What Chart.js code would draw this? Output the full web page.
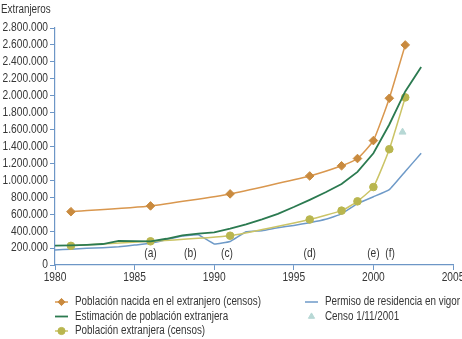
<!DOCTYPE html>
<html>
<head>
<meta charset="utf-8">
<script src="https://cdn.jsdelivr.net/npm/chart.js@4.4.1/dist/chart.umd.min.js"></script>
<style>
html,body{margin:0;padding:0;background:#fff;overflow:hidden;}
#wrap{position:relative;width:462px;height:339px;}
</style>
</head>
<body>
<div id="wrap"><canvas id="c"></canvas></div>
<script>
// ---- data ----
const censusYears = [1981, 1986, 1991, 1996, 1998, 1999, 2000, 2001, 2002];
const bornAbroad = [630000, 698000, 840000, 1052000, 1172000, 1258000, 1470000, 1970000, 2600000];
const foreignCensus = [226000, 280000, 346000, 538000, 642000, 752000, 921000, 1368000, 1980000];
const annualYears = [1980,1981,1982,1983,1984,1985,1986,1987,1988,1989,1990,1991,1992,1993,1994,1995,1996,1997,1998,1999,2000,2001,2002,2003];
const estimate = [228000,232000,238000,248000,285000,282000,280000,310000,350000,370000,385000,430000,480000,540000,605000,685000,770000,860000,957000,1100000,1320000,1660000,2050000,2340000];
const permits = [177000,187000,197000,205000,215000,235000,256000,300000,342000,357000,249000,278000,392000,405000,440000,468000,500000,540000,604000,725000,806000,890000,1105000,1320000];
const census2001Year = [2001.83];
const census2001Value = [1570000];
const noteLabels = ['(a)','(b)','(c)','(d)','(e)','(f)'];
const noteYears = [1986, 1988.5, 1990.8, 1996, 2000, 2001.05];
const xTicks = [1980, 1985, 1990, 1995, 2000, 2005];
const yMax = 2800000, yStep = 200000;

const FONT = '"Liberation Sans", Arial, sans-serif';
const FSIZE = 12.3;
const SX = 0.83;     // horizontal condensing of numbers
const SX_TXT = 0.80; // horizontal condensing of words
const TXT = '#363636';
const AXIS = '#6d96c6';
const C_ORANGE_L = '#d9974e', C_ORANGE_P = '#c98a3e';
const C_GREEN = '#2b7a50';
const C_YEL_L = '#cbc466', C_YEL_P = '#b9b64f';
const C_BLUE = '#6e9ac8';
const C_TRI = '#b7d8d5';

const zip = (xs, ys) => xs.map((x, i) => ({x, y: ys[i]}));
const fmt = v => String(Math.round(v)).replace(/\B(?=(\d{3})+(?!\d))/g, '.');

function drawText(ctx, text, x, y, align, sx) {
  ctx.save();
  ctx.font = FSIZE + 'px ' + FONT;
  ctx.fillStyle = TXT;
  ctx.textBaseline = 'middle';
  ctx.textAlign = align || 'left';
  ctx.translate(x, y);
  ctx.scale(sx || SX, 1);
  ctx.fillText(text, 0, 0);
  ctx.restore();
}

const datasets = [
  {label:'Población nacida en el extranjero (censos)', data: zip(censusYears, bornAbroad),
   borderColor:C_ORANGE_L, backgroundColor:C_ORANGE_P, pointBackgroundColor:C_ORANGE_P, pointBorderColor:C_ORANGE_P,
   pointStyle:'rectRot', pointRadius:4.3, borderWidth:1.5, pointBorderWidth:1, tension:0.15},
  {label:'Estimación de población extranjera', data: zip(annualYears, estimate),
   borderColor:C_GREEN, backgroundColor:C_GREEN, pointRadius:0, borderWidth:1.8, tension:0},
  {label:'Población extranjera (censos)', data: zip(censusYears, foreignCensus),
   borderColor:C_YEL_L, backgroundColor:C_YEL_P, pointBackgroundColor:C_YEL_P, pointBorderColor:C_YEL_P,
   pointStyle:'circle', pointRadius:3.8, borderWidth:1.5, pointBorderWidth:1, tension:0.15},
  {label:'Permiso de residencia en vigor', data: zip(annualYears, permits),
   borderColor:C_BLUE, backgroundColor:C_BLUE, pointRadius:0, borderWidth:1.5, tension:0.1},
  {label:'Censo 1/11/2001', data: zip(census2001Year, census2001Value), showLine:false,
   borderColor:C_TRI, backgroundColor:C_TRI, pointBackgroundColor:C_TRI, pointBorderColor:C_TRI,
   pointStyle:'triangle', pointRadius:4, pointBorderWidth:1}
];

const legendLayout = [
  {ds:0, x:55, y:302}, {ds:1, x:55, y:316.5}, {ds:2, x:55, y:331},
  {ds:3, x:305, y:302}, {ds:4, x:305, y:316.5}
];

const extras = {
  id:'extras',
  afterDraw(chart){
    const ctx = chart.ctx;
    const xs = chart.scales.x, ys = chart.scales.y;
    // title
    drawText(ctx, 'Extranjeros', 1, 10, 'left', SX_TXT);
    // y tick labels
    ys.ticks.forEach(t => drawText(ctx, fmt(t.value), xs.left - 7, ys.getPixelForValue(t.value), 'right'));
    // x tick labels
    xs.ticks.forEach(t => drawText(ctx, String(t.value), xs.getPixelForValue(t.value), ys.bottom + 12.5, 'center'));
    // notes
    noteLabels.forEach((t, i) => drawText(ctx, t, xs.getPixelForValue(noteYears[i]), ys.bottom - 11, 'center'));
    // legend
    legendLayout.forEach(item => {
      const d = chart.data.datasets[item.ds];
      const x = item.x, y = item.y;
      ctx.save();
      if (d.showLine !== false) {
        ctx.strokeStyle = d.borderColor;
        ctx.lineWidth = d.borderWidth || 1.5;
        ctx.beginPath(); ctx.moveTo(x, y); ctx.lineTo(x + 13, y); ctx.stroke();
      }
      if (d.pointRadius) {
        ctx.fillStyle = d.pointBackgroundColor;
        ctx.strokeStyle = d.pointBorderColor;
        ctx.lineWidth = 1;
        Chart.helpers.drawPoint(ctx, {pointStyle:d.pointStyle, radius:3.6, borderWidth:1}, x + 6.5, y);
      }
      ctx.restore();
      drawText(ctx, d.label, x + 20, y, 'left', SX_TXT);
    });
  }
};

new Chart(document.getElementById('c'), {
  type:'line',
  data:{datasets},
  options:{
    responsive:true, maintainAspectRatio:false, animation:false,
    layout:{padding:{left:50, top:28, right:9, bottom:69}},
    plugins:{legend:{display:false}, tooltip:{enabled:false}, title:{display:false}},
    scales:{
      x:{type:'linear', min:1980, max:2005,
         afterBuildTicks(s){ s.ticks = xTicks.map(v => ({value:v})); },
         grid:{display:true, drawOnChartArea:false, drawTicks:true, tickLength:5, color:AXIS},
         border:{display:true, color:AXIS, width:1.2},
         ticks:{display:false, autoSkip:false}},
      y:{type:'linear', min:0, max:yMax,
         ticks:{display:false, stepSize:yStep, autoSkip:false},
         grid:{display:true, drawOnChartArea:false, drawTicks:true, tickLength:5, color:AXIS},
         border:{display:true, color:AXIS, width:1.2}}
    }
  },
  plugins:[extras]
});
</script>
</body>
</html>
